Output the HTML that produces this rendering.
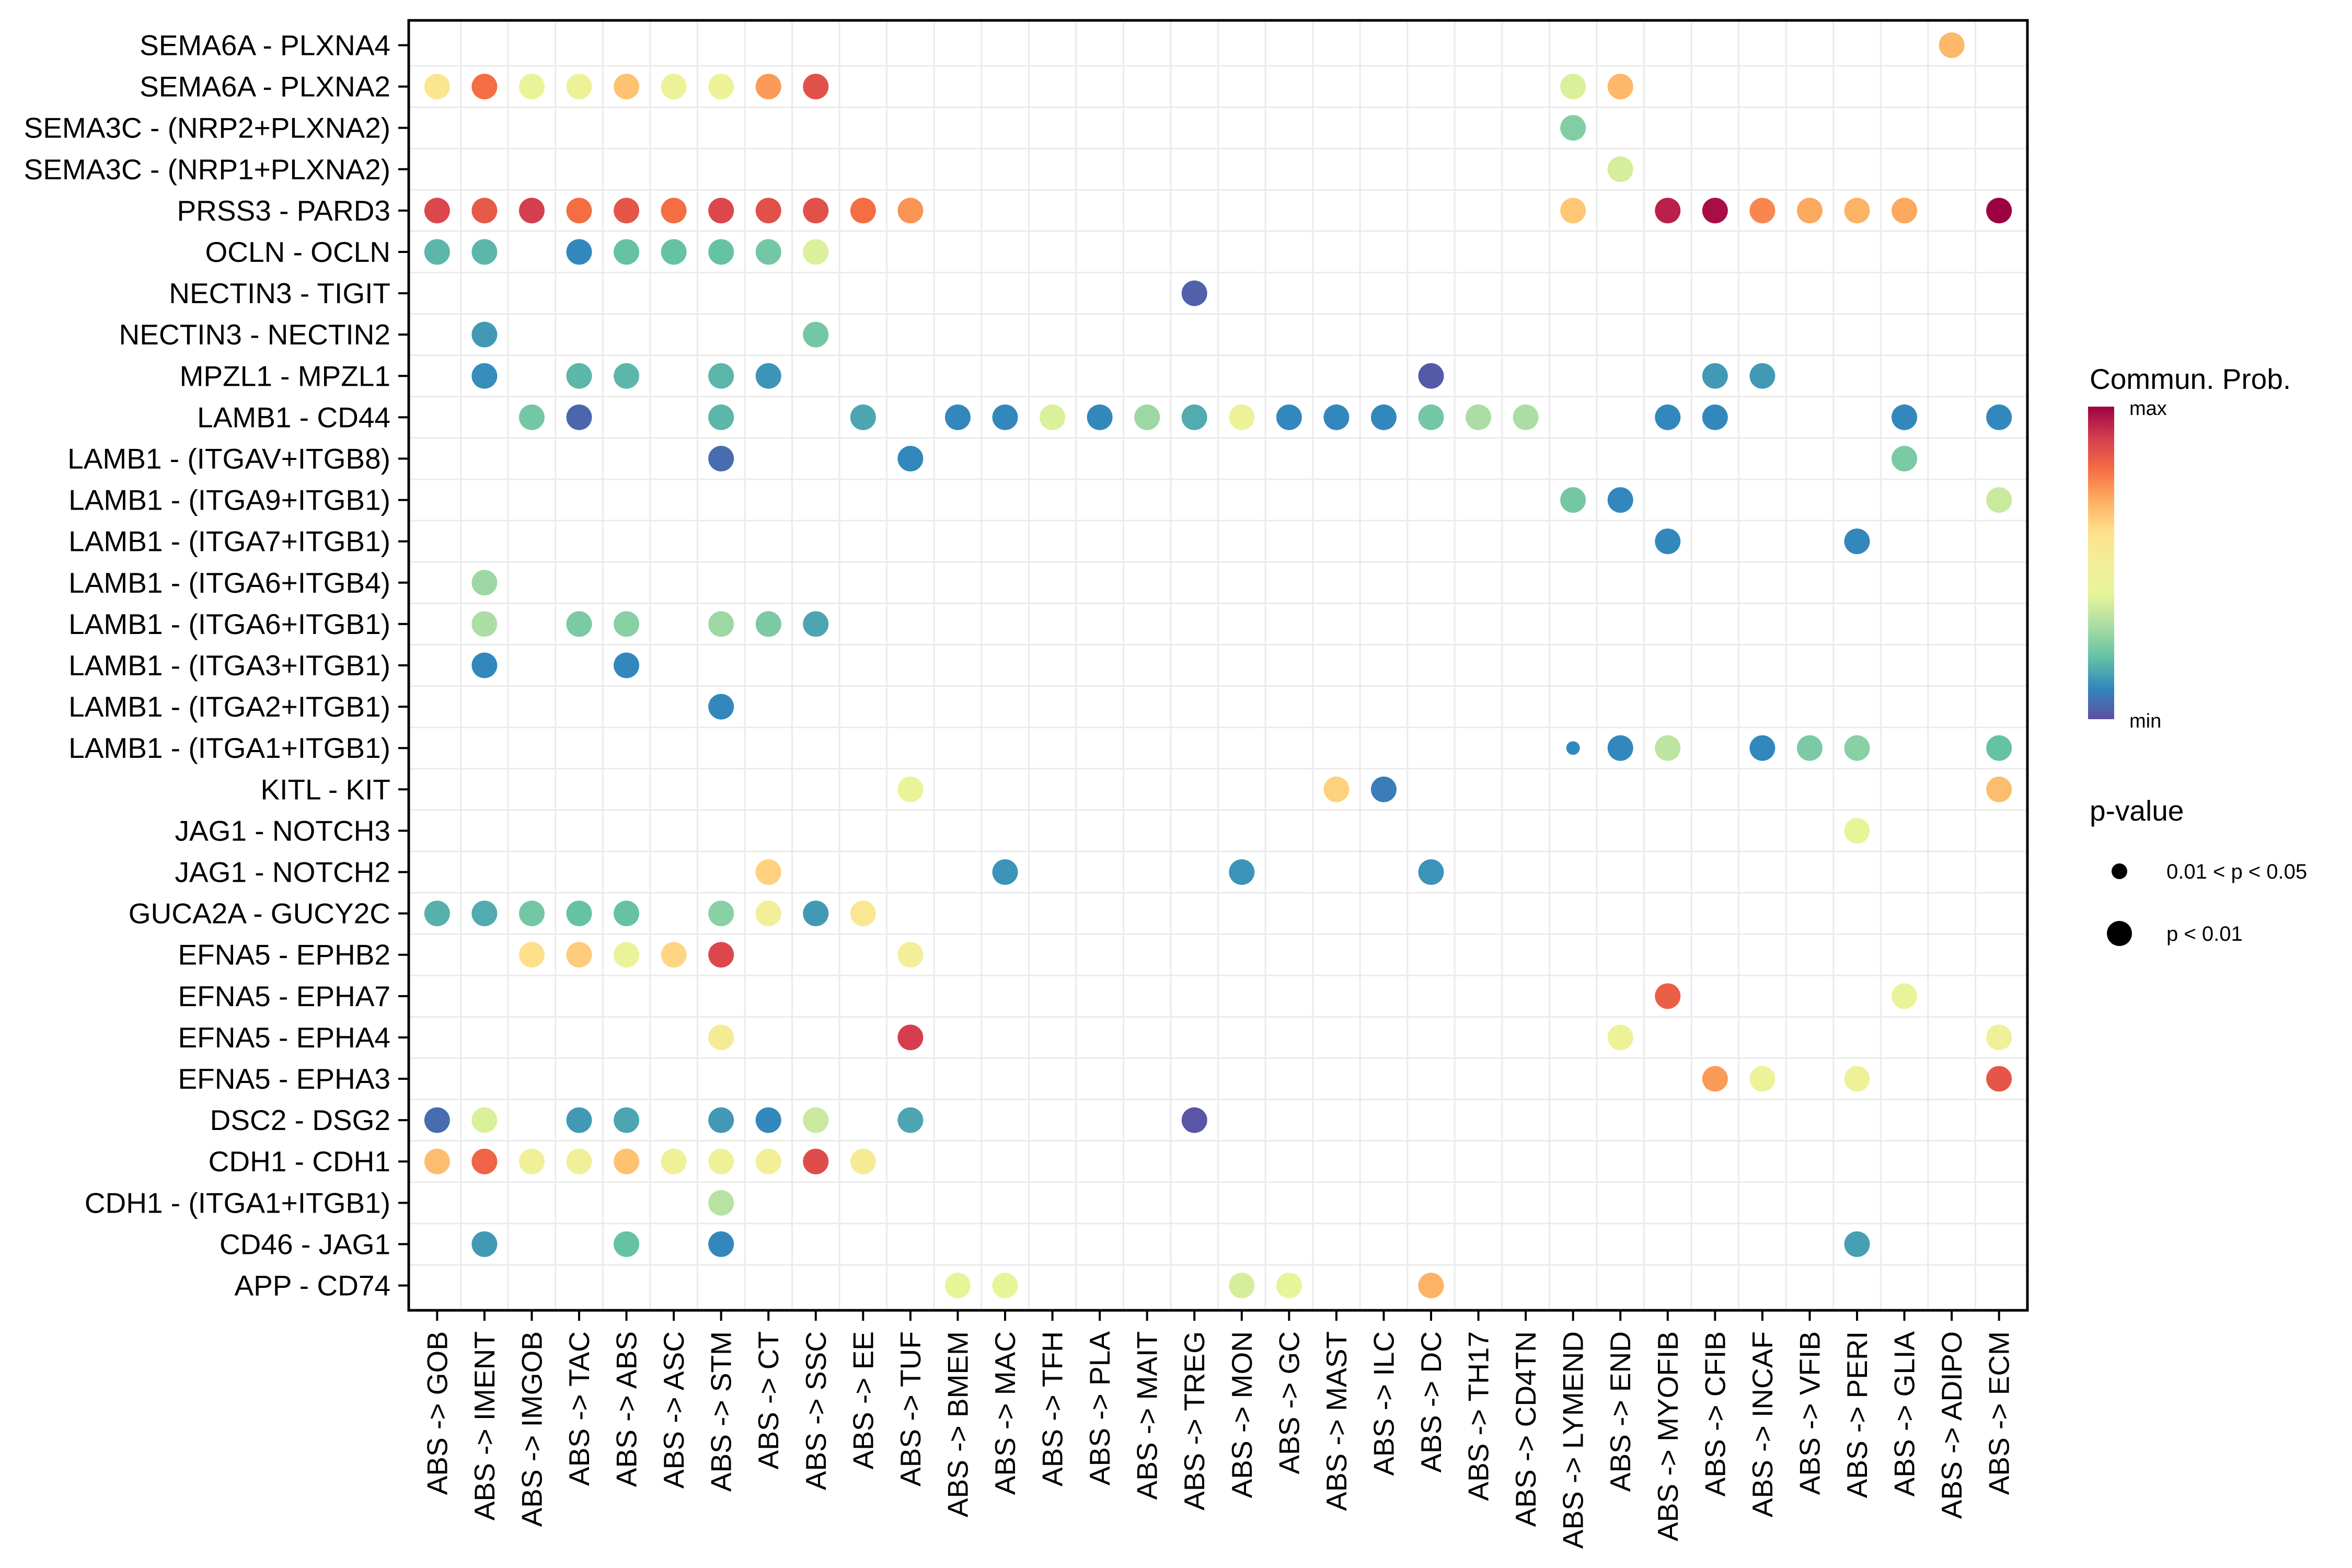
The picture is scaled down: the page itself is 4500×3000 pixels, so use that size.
<!DOCTYPE html>
<html><head><meta charset="utf-8"><style>
html,body{margin:0;padding:0;background:#fff}
svg{display:block;font-family:"Liberation Sans",sans-serif}
</style></head><body>
<svg id="chart" width="4500" height="3000" viewBox="0 0 4500 3000" xmlns="http://www.w3.org/2000/svg">
<defs>
<linearGradient id="spec" x1="0" y1="1" x2="0" y2="0">
<stop offset="0" stop-color="#5E4FA2"/><stop offset="0.1" stop-color="#3288BD"/><stop offset="0.2" stop-color="#66C2A5"/><stop offset="0.3" stop-color="#ABDDA4"/><stop offset="0.4" stop-color="#E6F598"/><stop offset="0.5" stop-color="#F3EE98"/><stop offset="0.6" stop-color="#FEE08B"/><stop offset="0.7" stop-color="#FDAE61"/><stop offset="0.8" stop-color="#F46D43"/><stop offset="0.9" stop-color="#D53E4F"/><stop offset="1" stop-color="#9E0142"/>
</linearGradient>
</defs>
<g id="grid"></g>
<g id="dots"></g>
<rect x="782" y="39" width="3097" height="2468" fill="none" stroke="#000" stroke-width="5"/>
<g id="yaxis"></g>
<g id="xaxis"></g>
<g>
<text x="3998" y="744" font-size="55">Commun. Prob.</text>
<rect x="3995" y="778" width="50" height="598" fill="url(#spec)"/>
<text x="4074" y="794" font-size="38">max</text>
<text x="4074" y="1392" font-size="38">min</text>
</g>
<g>
<text x="3998" y="1570" font-size="55">p-value</text>
<circle cx="4055" cy="1667" r="15" fill="#000"/>
<text x="4145" y="1681" font-size="40">0.01 &lt; p &lt; 0.05</text>
<circle cx="4055" cy="1786" r="24" fill="#000"/>
<text x="4145" y="1800" font-size="40">p &lt; 0.01</text>
</g>
</svg>
<script>
const rowLabels = ["SEMA6A - PLXNA4","SEMA6A - PLXNA2","SEMA3C - (NRP2+PLXNA2)","SEMA3C - (NRP1+PLXNA2)","PRSS3 - PARD3","OCLN - OCLN","NECTIN3 - TIGIT","NECTIN3 - NECTIN2","MPZL1 - MPZL1","LAMB1 - CD44","LAMB1 - (ITGAV+ITGB8)","LAMB1 - (ITGA9+ITGB1)","LAMB1 - (ITGA7+ITGB1)","LAMB1 - (ITGA6+ITGB4)","LAMB1 - (ITGA6+ITGB1)","LAMB1 - (ITGA3+ITGB1)","LAMB1 - (ITGA2+ITGB1)","LAMB1 - (ITGA1+ITGB1)","KITL - KIT","JAG1 - NOTCH3","JAG1 - NOTCH2","GUCA2A - GUCY2C","EFNA5 - EPHB2","EFNA5 - EPHA7","EFNA5 - EPHA4","EFNA5 - EPHA3","DSC2 - DSG2","CDH1 - CDH1","CDH1 - (ITGA1+ITGB1)","CD46 - JAG1","APP - CD74"];
const colLabels = ["GOB","IMENT","IMGOB","TAC","ABS","ASC","STM","CT","SSC","EE","TUF","BMEM","MAC","TFH","PLA","MAIT","TREG","MON","GC","MAST","ILC","DC","TH17","CD4TN","LYMEND","END","MYOFIB","CFIB","INCAF","VFIB","PERI","GLIA","ADIPO","ECM"].map(s=>"ABS -> "+s);
const pointRow = [0, 1,1,1,1,1,1,1,1,1,1,1, 2, 3, 4,4,4,4,4,4,4,4,4,4,4,4,4,4,4,4,4,4,4, 5,5,5,5,5,5,5,5, 6, 7,7, 8,8,8,8,8,8,8,8, 9,9,9,9,9,9,9,9,9,9,9,9,9,9,9,9,9,9,9,9,9, 10,10,10, 11,11,11, 12,12, 13, 14,14,14,14,14,14, 15,15, 16, 17,17,17,17,17,17,17, 18,18,18,18, 19, 20,20,20,20, 21,21,21,21,21,21,21,21,21, 22,22,22,22,22,22, 23,23, 24,24,24,24, 25,25,25,25, 26,26,26,26,26,26,26,26,26, 27,27,27,27,27,27,27,27,27,27, 28, 29,29,29,29, 30,30,30,30,30];
const pointCol = [32, 0,1,2,3,4,5,6,7,8,24,25, 24, 25, 0,1,2,3,4,5,6,7,8,9,10,24,26,27,28,29,30,31,33, 0,1,3,4,5,6,7,8, 16, 1,8, 1,3,4,6,7,21,27,28, 2,3,6,9,11,12,13,14,15,16,17,18,19,20,21,22,23,26,27,31,33, 6,10,31, 24,25,33, 26,30, 1, 1,3,4,6,7,8, 1,4, 6, 24,25,26,28,29,30,33, 10,19,20,33, 30, 7,12,17,21, 0,1,2,3,4,6,7,8,9, 2,3,4,5,6,10, 26,31, 6,10,25,33, 27,28,30,33, 0,1,3,4,6,7,8,10,16, 0,1,2,3,4,5,6,7,8,9, 6, 1,4,6,30, 11,12,17,18,21];
const pointProb = [0.68, 0.56,0.80,0.42,0.45,0.66,0.45,0.45,0.73,0.86,0.38,0.68, 0.24, 0.37, 0.88,0.84,0.90,0.80,0.85,0.80,0.88,0.86,0.86,0.80,0.74,0.65,0.95,0.98,0.76,0.71,0.69,0.71,1.0, 0.18,0.18,0.10,0.20,0.20,0.20,0.22,0.38, 0.03, 0.13,0.22, 0.11,0.18,0.18,0.18,0.12,0.02,0.13,0.13, 0.22,0.04,0.18,0.15,0.10,0.10,0.38,0.10,0.28,0.16,0.45,0.10,0.10,0.10,0.22,0.30,0.30,0.10,0.10,0.10,0.10, 0.05,0.10,0.23, 0.22,0.10,0.35, 0.10,0.10, 0.28, 0.30,0.23,0.25,0.28,0.23,0.15, 0.10,0.10, 0.10, 0.10,0.10,0.33,0.10,0.23,0.25,0.20, 0.43,0.63,0.08,0.67, 0.40, 0.63,0.12,0.12,0.12, 0.17,0.16,0.22,0.20,0.20,0.25,0.50,0.13,0.55, 0.60,0.64,0.43,0.62,0.88,0.50, 0.83,0.42, 0.52,0.90,0.45,0.47, 0.73,0.45,0.47,0.85, 0.05,0.38,0.13,0.15,0.13,0.10,0.35,0.15,0.01, 0.67,0.82,0.47,0.47,0.66,0.47,0.46,0.50,0.87,0.52, 0.32, 0.13,0.20,0.10,0.14, 0.40,0.40,0.37,0.40,0.69];
const pointSig = pointRow.map((r,i)=> (r===17 && pointCol[i]===24) ? 0 : 1);

const NS="http://www.w3.org/2000/svg";
const PL=782, PT=39, PW=3097, PH=2468;
const colStep = PW/(colLabels.length-1+1.2);
const rowStep = PH/(rowLabels.length-1+1.2);
function xScale(i){return PL+(0.6+i)*colStep;}
function yScale(j){return PT+(0.6+j)*rowStep;}
const spectral=["#5E4FA2","#3288BD","#66C2A5","#ABDDA4","#E6F598","#F3EE98","#FEE08B","#FDAE61","#F46D43","#D53E4F","#9E0142"];
function hex(h){return [1,3,5].map(k=>parseInt(h.substr(k,2),16));}
function colorScale(v){
  v=Math.max(0,Math.min(1,v));const p=v*10;const i=Math.min(9,Math.floor(p));const t=p-i;
  const a=hex(spectral[i]),b=hex(spectral[i+1]);
  return "rgb("+a.map((c,k)=>Math.round(c+(b[k]-c)*t)).join(",")+")";
}
function mk(tag,attrs,parent){const e=document.createElementNS(NS,tag);for(const k in attrs)e.setAttribute(k,attrs[k]);parent.appendChild(e);return e;}

const grid=document.getElementById('grid');
for(let i=0;i<colLabels.length-1;i++){
  const x=xScale(i+0.5);
  const l=mk('line',{x1:x,x2:x,y1:PT,y2:PT+PH,stroke:'#ebebeb','stroke-width':3},grid);
  
  
}
for(let j=0;j<rowLabels.length-1;j++){
  const y=yScale(j+0.5);
  const l=mk('line',{x1:PL,x2:PL+PW,y1:y,y2:y,stroke:'#ebebeb','stroke-width':3},grid);
  
  
}
const yaxis=document.getElementById('yaxis');
rowLabels.forEach((lab,j)=>{
  const y=yScale(j);
  const t=mk('line',{x1:PL-20,x2:PL,y1:y,y2:y,stroke:'#000','stroke-width':4},yaxis);
  
  
  const tx=mk('text',{x:PL-35,y:y+19,'font-size':55,'text-anchor':'end'},yaxis);
  tx.textContent=lab;
  
  
});
const xaxis=document.getElementById('xaxis');
colLabels.forEach((lab,i)=>{
  const x=xScale(i);
  const t=mk('line',{x1:x,x2:x,y1:PT+PH,y2:PT+PH+20,stroke:'#000','stroke-width':4},xaxis);
  
  
  const tx=mk('text',{x:0,y:0,'font-size':55,'text-anchor':'end',transform:'translate('+(x+19)+','+(PT+PH+40)+') rotate(-90)'},xaxis);
  tx.textContent=lab;
  
  
});
const dots=document.getElementById('dots');
pointRow.forEach((r,k)=>{
  const c=mk('circle',{cx:xScale(pointCol[k]),cy:yScale(r),r:pointSig[k]?24.5:13,fill:colorScale(pointProb[k])},dots);
  
  
});
</script>
</body></html>
